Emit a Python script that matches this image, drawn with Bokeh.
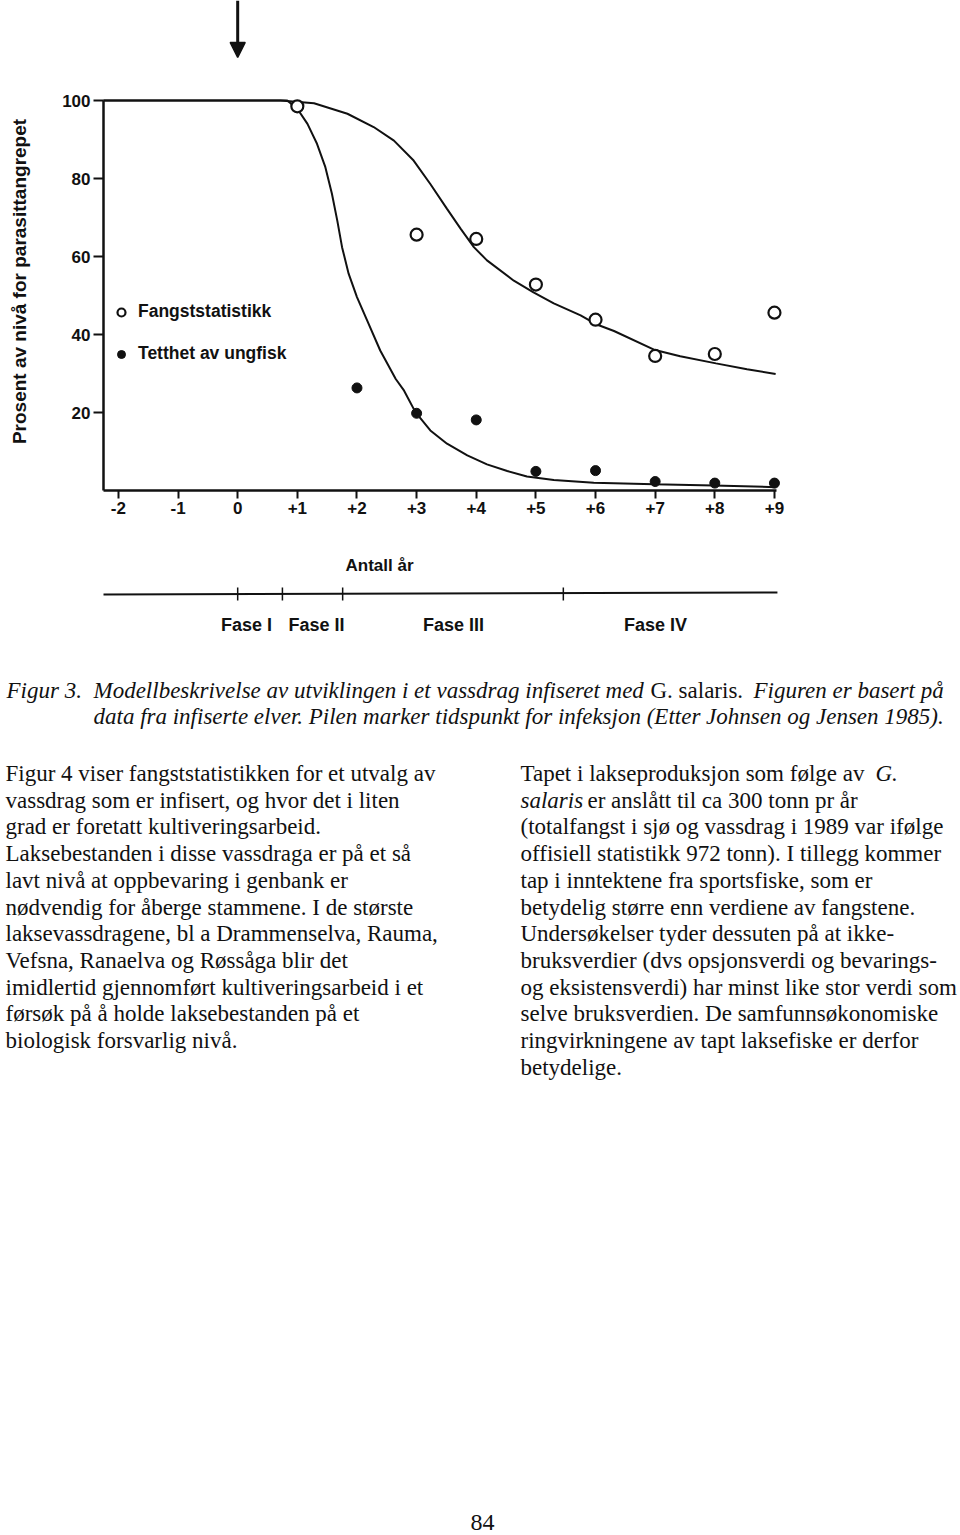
import math
from bokeh.plotting import figure
from bokeh.models import (Range1d, FixedTicker, Legend, LegendItem, Arrow,
                          NormalHead, ColumnDataSource)
from bokeh.layouts import column
from bokeh.embed import file_html
from bokeh.resources import INLINE
from bokeh.core.properties import value

# ---------------- data ----------------
fangst_years = [1, 3, 4, 5, 6, 7, 8, 9]
fangst_pct = [98.5, 65.6, 64.5, 52.8, 43.8, 34.5, 35.0, 45.6]

tetthet_years = [2, 3, 4, 5, 6, 7, 8, 9]
tetthet_pct = [26.3, 19.8, 18.1, 4.9, 5.1, 2.3, 1.9, 1.9]

# hand-drawn fitted curves
fangst_curve_x = [-2.25, 0.72, 1.28, 1.84, 2.28, 2.62, 2.95, 3.23, 3.51, 3.74, 3.96, 4.18,
                  4.63, 4.96, 5.30, 5.75, 6.0, 6.31, 6.98, 7.42, 8.02, 8.54, 9.02]
fangst_curve_y = [100, 100, 99.3, 96.6, 93.2, 89.7, 84.6, 78.6, 72.2, 67.1, 62.4, 59.0,
                  53.8, 50.8, 48.0, 44.9, 42.7, 40.9, 36.1, 34.4, 32.6, 31.1, 29.9]

tetthet_curve_x = [-2.25, 0.83, 1.0, 1.17, 1.33, 1.47, 1.58, 1.67, 1.75, 1.86, 2.0, 2.17,
                   2.39, 2.65, 2.79, 2.98, 3.23, 3.51, 3.85, 4.18, 4.52, 4.85, 5.3, 5.97,
                   6.98, 7.98, 9.02]
tetthet_curve_y = [100, 100, 97.9, 94.0, 88.9, 82.9, 76.1, 69.2, 62.4, 55.6, 49.6, 43.6,
                   35.9, 28.6, 25.6, 20.1, 15.4, 12.0, 9.0, 6.7, 5.0, 3.6, 2.7, 2.0,
                   1.6, 1.3, 0.85]

x_ticks = [-2, -1, 0, 1, 2, 3, 4, 5, 6, 7, 8, 9]
x_tick_labels = ["-2", "-1", "0", "+1", "+2", "+3", "+4", "+5", "+6", "+7", "+8", "+9"]
y_ticks = [20, 40, 60, 80, 100]

infection_year = 0

phase_bounds = [0, 0.75, 1.76, 5.46]
phase_names = ["Fase I", "Fase II", "Fase III", "Fase IV"]

legend_labels = ["Fangststatistikk", "Tetthet av ungfisk"]
y_title = "Prosent av nivå for parasittangrepet"
x_title = "Antall år"

caption_italic = ["Figur 3.", "Modellbeskrivelse av utviklingen i et vassdrag infiseret med",
                  "Figuren er basert på",
                  "data fra infiserte elver. Pilen marker tidspunkt for infeksjon (Etter Johnsen og Jensen 1985)."]
caption_upright = ["G. salaris."]

body_left = [
    "Figur 4 viser fangststatistikken for et utvalg av",
    "vassdrag som er infisert, og hvor det i liten",
    "grad er foretatt kultiveringsarbeid.",
    "Laksebestanden i disse vassdraga er på et så",
    "lavt nivå at oppbevaring i genbank er",
    "nødvendig for åberge stammene. I de største",
    "laksevassdragene, bl a Drammenselva, Rauma,",
    "Vefsna, Ranaelva og Røssåga blir det",
    "imidlertid gjennomført kultiveringsarbeid i et",
    "førsøk på å holde laksebestanden på et",
    "biologisk forsvarlig nivå.",
]
body_right = [
    "Tapet i lakseproduksjon som følge av",
    "er anslått til ca 300 tonn pr år",
    "(totalfangst i sjø og vassdrag i 1989 var ifølge",
    "offisiell statistikk 972 tonn). I tillegg kommer",
    "tap i inntektene fra sportsfiske, som er",
    "betydelig større enn verdiene av fangstene.",
    "Undersøkelser tyder dessuten på at ikke-",
    "bruksverdier (dvs opsjonsverdi og bevarings-",
    "og eksistensverdi) har minst like stor verdi som",
    "selve bruksverdien. De samfunnsøkonomiske",
    "ringvirkningene av tapt laksefiske er derfor",
    "betydelige.",
]
body_right_italic = ["G.", "salaris"]
page_number = "84"

# ---------------- layout / styles ----------------
SANS = "Liberation Sans"
SERIF = "Liberation Serif"
INK = "#111111"

W = 960
CHART_H = 650
TEXT_H = 1535 - CHART_H
PX_PER_YEAR = 59.64          # horizontal scale of the chart
PX_PER_PCT = 3.9             # vertical scale of the chart
AXIS_LEFT_PX = 103           # page x of the y axis (year -2.25)
AXIS_BOTTOM_PX = 490         # page y of the x axis (0 %)
X_AXIS_START = -2.25

x_start = X_AXIS_START - AXIS_LEFT_PX / PX_PER_YEAR
x_end = x_start + W / PX_PER_YEAR
y_end = AXIS_BOTTOM_PX / PX_PER_PCT
y_start = y_end - CHART_H / PX_PER_PCT


def yr(px):      # page x pixel -> year coordinate (for decorations)
    return x_start + px / PX_PER_YEAR


def pc_(py):     # page y pixel -> percent coordinate (for decorations)
    return y_end - py / PX_PER_PCT


# ---------------- chart ----------------
p = figure(width=W, height=CHART_H, x_range=Range1d(x_start, x_end), y_range=Range1d(y_start, y_end),
           output_backend="svg", toolbar_location=None, min_border=0)
p.outline_line_color = None
p.grid.visible = False
p.background_fill_color = "white"

p.line(fangst_curve_x, fangst_curve_y, line_color=INK, line_width=2)
p.line(tetthet_curve_x, tetthet_curve_y, line_color=INK, line_width=2)
r1 = p.scatter(fangst_years, fangst_pct, marker="circle", size=12, fill_color="white",
               line_color=INK, line_width=2.2)
r2 = p.scatter(tetthet_years, tetthet_pct, marker="circle", size=10, fill_color=INK,
               line_color=INK)

p.add_layout(Arrow(end=NormalHead(size=15, fill_color=INK, line_color=INK, line_width=1.5),
                   x_start=infection_year, y_start=pc_(0), x_end=infection_year, y_end=pc_(57),
                   line_color=INK, line_width=3))

for ax in (p.xaxis[0], p.yaxis[0]):
    ax.axis_line_width = 2.5
    ax.axis_line_color = INK
    ax.major_tick_line_width = 2
    ax.major_tick_line_color = INK
    ax.minor_tick_line_color = None
    ax.major_tick_in = 0
    ax.major_label_text_font = SANS
    ax.major_label_text_font_style = "bold"
    ax.major_label_text_font_size = "17px"
    ax.major_label_text_color = INK

p.xaxis.ticker = FixedTicker(ticks=x_ticks)
p.xaxis.major_label_overrides = {t: l for t, l in zip(x_ticks, x_tick_labels)}
p.xaxis.bounds = (X_AXIS_START, 9.03)
p.xaxis.fixed_location = 0
p.xaxis.major_tick_out = 8
p.xaxis.major_label_standoff = 3

p.yaxis.ticker = FixedTicker(ticks=y_ticks)
p.yaxis.bounds = (0, 100)
p.yaxis.fixed_location = X_AXIS_START
p.yaxis.major_tick_out = 10
p.yaxis.major_label_standoff = 3

# y-axis title (vertical)
p.text(x=[yr(19)], y=[pc_(281)], text=[y_title], angle=math.pi / 2, text_align="center",
       text_baseline="middle", text_font=value(SANS), text_font_style="bold",
       text_font_size="19px", text_color=INK)

legend = Legend(items=[LegendItem(label=legend_labels[0], renderers=[r1]),
                       LegendItem(label=legend_labels[1], renderers=[r2])],
                location=(111, CHART_H - 364), border_line_color=None, background_fill_alpha=0,
                padding=0, margin=0, glyph_width=20, glyph_height=20, label_height=20,
                label_standoff=7, spacing=21, label_text_font=SANS,
                label_text_font_size="17.5px", label_text_font_style="bold",
                label_text_color=INK)
p.add_layout(legend)

# x-axis title and the phase strip below it
p.text(x=[yr(379)], y=[pc_(565)], text=[x_title], text_align="center", text_baseline="middle",
       text_font=value(SANS), text_font_style="bold", text_font_size="17px", text_color=INK)
p.segment(x0=[X_AXIS_START], y0=[pc_(594)], x1=[9.05], y1=[pc_(592)], line_color=INK, line_width=2)
p.segment(x0=phase_bounds, y0=[pc_(587)] * 4, x1=phase_bounds, y1=[pc_(600)] * 4,
          line_color=INK, line_width=1.5)
p.text(x=[yr(246), yr(316), yr(453), yr(655)], y=[pc_(624)] * 4, text=phase_names,
       text_align="center", text_baseline="middle", text_font=value(SANS),
       text_font_style="bold", text_font_size="18px", text_color=INK)

# ---------------- caption and body text ----------------
pt = figure(width=W, height=TEXT_H, x_range=Range1d(0, W), y_range=Range1d(1535, CHART_H),
            output_backend="svg", toolbar_location=None, x_axis_type=None, y_axis_type=None,
            min_border=0)
pt.outline_line_color = None
pt.grid.visible = False

FS = "23px"
cap_src = ColumnDataSource(dict(x=[6, 93, 753, 93], y=[690, 690, 690, 716], t=caption_italic))
pt.text(x="x", y="y", text="t", source=cap_src, text_font=value(SERIF), text_font_style="italic",
        text_font_size=FS, text_baseline="middle", text_color=INK)
pt.text(x=[650], y=[690], text=caption_upright, text_font=value(SERIF),
        text_font_size=FS, text_baseline="middle", text_color=INK)

y0, dy = 773, 26.7
left_src = ColumnDataSource(dict(x=[5] * len(body_left), y=[y0 + i * dy for i in range(len(body_left))],
                                 t=body_left))
pt.text(x="x", y="y", text="t", source=left_src, text_font=value(SERIF), text_font_size=FS,
        text_baseline="middle", text_color=INK)
rx = [520, 587] + [520] * (len(body_right) - 2)
right_src = ColumnDataSource(dict(x=rx, y=[y0 + i * dy for i in range(len(body_right))], t=body_right))
pt.text(x="x", y="y", text="t", source=right_src, text_font=value(SERIF), text_font_size=FS,
        text_baseline="middle", text_color=INK)
pt.text(x=[875, 520], y=[y0, y0 + dy], text=body_right_italic, text_font=value(SERIF),
        text_font_style="italic", text_font_size=FS, text_baseline="middle", text_color=INK)
pt.text(x=[482], y=[1522], text=[page_number], text_align="center", text_font=value(SERIF),
        text_font_size="24px", text_baseline="middle", text_color=INK)

layout = column(p, pt, spacing=0)
open("out.html", "w").write(file_html(layout, INLINE))
